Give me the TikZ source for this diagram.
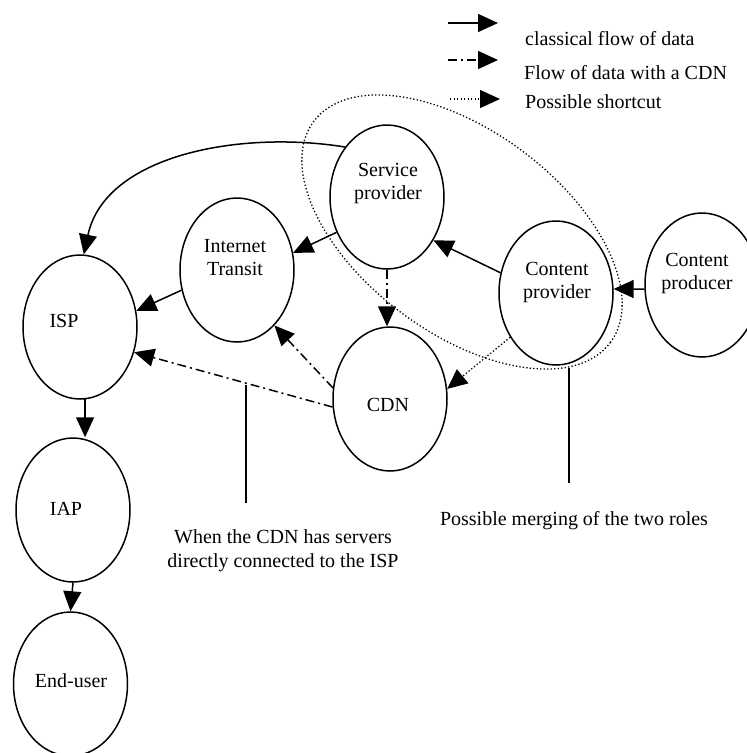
\documentclass[tikz,border=0pt]{standalone}
\usepackage{fontspec}
\setmainfont{Liberation Serif}
\usetikzlibrary{arrows.meta,shapes.geometric}
\begin{document}
\begin{tikzpicture}[x=1pt,y=1pt,
  ell/.style={draw, ellipse, line width=1.5pt, minimum width=114pt, minimum height=144pt, inner sep=0pt},
  lbl/.style={anchor=base, align=center, font=\fontsize{20}{23}\selectfont, inner sep=0pt},
  txt/.style={align=center, font=\fontsize{20}{24}\selectfont, inner sep=0pt},
  arr/.style={line width=1.5pt, -{Triangle[length=20pt,width=18pt]}},
  dasharr/.style={arr, dash pattern=on 9pt off 4pt on 2pt off 4pt},
  dotarr/.style={arr, line width=1.3pt, dash pattern=on 1.3pt off 2.2pt},
  leader/.style={line width=1.5pt}]
\useasboundingbox (0,0) rectangle (747,-753);
\clip (0,0) rectangle (747,-753);

% merging region
\draw[line width=1.3pt, dash pattern=on 1.3pt off 2.2pt, rotate around={-36.7:(462,-232)}]
  (462,-232) ellipse [x radius=185pt, y radius=101pt];

% ellipses
\node[ell] (sp) at (387,-197) {};
\node[ell] (it) at (237,-270) {};
\node[ell] (isp) at (80,-327) {};
\node[ell] (cdn) at (390,-399) {};
\node[ell] (cp) at (556,-293) {};
\node[ell] (prod) at (702,-285) {};
\node[ell] (iap) at (73,-510) {};
\node[ell] (eu) at (70.5,-684) {};

% labels
\node[lbl] (sptxt) at (388,-199) {Service\\provider};
\node[lbl] (ittxt) at (235,-275) {Internet\\Transit};
\node[lbl] (isptxt) at (64,-327) {ISP};
\node[lbl] (cdntxt) at (388,-411) {CDN};
\node[lbl] (cptxt) at (557,-298) {Content\\provider};
\node[lbl] (prodtxt) at (697,-289) {Content\\producer};
\node[lbl] (iaptxt) at (66,-515) {IAP};
\node[lbl] (eutxt) at (71,-687) {End-user};

% classical flow
\draw[arr] (sp.130) .. controls (240,-130) and (105,-155) .. (isp.87);
\draw[arr] (sp.215.8) -- (it.17.8);
\draw[arr] (it.200.3) -- (isp.16.7);
\draw[arr] (isp.-86) -- (isp.-86 |- iap.north);
\draw[arr] (iap.south) -- (eu.north);
\draw[arr] (cp.160) -- (sp.-43);
\draw[arr] (prod.184) -- (cp.4);

% flow with a CDN
\draw[dasharr] (sp.south) -- (sp.south |- cdn.north);
\draw[dasharr] (cdn.169) -- (it.-56.8);
\draw[dasharr] (cdn.188.8) -- (isp.-25.3);

% possible shortcut
\draw[dotarr] (cp.224.4) -- (cdn.10.7);

% leaders
\coordinate (l1a) at (246,-385);
\coordinate (l1b) at (246,-503);
\draw[leader] (l1a) -- (l1b);
\coordinate (l2a) at (569,-368);
\coordinate (l2b) at (569,-483);
\draw[leader] (l2a) -- (l2b);
\node[txt] (note1) at (283,-551) {When the CDN has servers\\directly connected to the ISP};
\node[txt] (note2) at (574,-521) {Possible merging of the two roles};

% legend
\coordinate (k1a) at (448,-23);
\coordinate (k1b) at (498,-23);
\coordinate (k2a) at (448,-60);
\coordinate (k2b) at (498,-60);
\coordinate (k3a) at (450,-99);
\coordinate (k3b) at (500,-99);
\draw[arr] (k1a) -- (k1b);
\draw[dasharr] (k2a) -- (k2b);
\draw[dotarr] (k3a) -- (k3b);
\node[lbl, anchor=base west] (leg1) at (525,-45) {classical flow of data};
\node[lbl, anchor=base west] (leg2) at (524,-79) {Flow of data with a CDN};
\node[lbl, anchor=base west] (leg3) at (525,-108) {Possible shortcut};
\end{tikzpicture}
\end{document}
